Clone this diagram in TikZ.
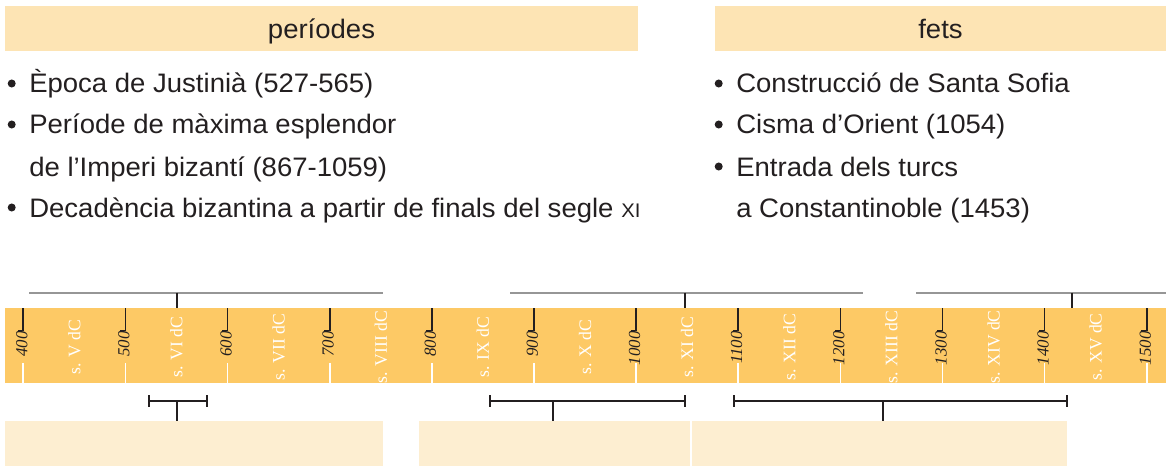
\documentclass[tikz,border=0pt]{standalone}
\usepackage{fontspec}
\setmainfont{Liberation Sans}[FakeStretch=1.03]
\newfontfamily\serifface{Liberation Serif}
\usetikzlibrary{positioning}

\definecolor{headfill}{RGB}{253,228,180}
\definecolor{bandfill}{RGB}{253,201,101}
\definecolor{boxfill}{RGB}{253,238,209}
\definecolor{inkgray}{RGB}{35,31,32}
\definecolor{brgray}{RGB}{150,150,150}

\begin{document}
\begin{tikzpicture}[x=0.025cm, y=-0.025cm,
  %% Header strips and list text
  head/.style ={fill=headfill, inner sep=0pt, text depth=0pt, text=inkgray,
                font=\fontsize{19}{23}\selectfont},
  item/.style ={anchor=base west, inner sep=0pt, text=inkgray,
                font=\fontsize{19}{23}\selectfont},
  bul/.style  ={circle, fill=inkgray, inner sep=0pt, minimum size=0.2cm},
  %% Timeline band
  band/.style ={fill=bandfill, inner sep=0pt, minimum width=29.025cm, minimum height=1.875cm},
  yearlbl/.style ={rotate=90, anchor=east, inner sep=0pt, text=inkgray,
                font=\serifface\itshape\fontsize{12}{13}\selectfont},
  centlbl/.style ={rotate=90, inner sep=0pt, text=white,
                font=\serifface\fontsize{12.5}{13}\selectfont},
  tick/.style ={line width=1.2pt, inkgray},
  wtick/.style={line width=1.2pt, white},
  %% Brackets and empty boxes
  upbr/.style ={line width=1.4pt, brgray},
  lobr/.style ={line width=1.2pt, inkgray},
  lobox/.style={fill=boxfill, inner sep=0pt, minimum height=1.125cm}
]
\useasboundingbox (0,0) rectangle (1166,466);

%% ── HEADERS ─────────────────────────────────────────────────
\node[head, minimum width=15.825cm, minimum height=1.125cm] (hper) at (321.5,28.5) {períodes};
\node[head, minimum width=11.275cm, minimum height=1.125cm] (hfet) at (940.5,28.5) {fets};

%% ── LEFT LIST ───────────────────────────────────────────────
\node[bul]  (b1) at (11.7,83.5) {};
\node[item] (p1) at (29,93)  {Època de Justinià (527-565)};
\node[bul]  (b2) at (11.7,124.5) {};
\node[item] (p2) at (29,134) {Període de màxima esplendor};
\node[item] (p3) at (29,176) {de l’Imperi bizantí (867-1059)};
\node[bul]  (b3) at (11.7,207.5) {};
\node[item] (p4) at (29,217) {Decadència bizantina a partir de finals del segle {\fontsize{14}{16}\selectfont XI}};

%% ── RIGHT LIST ──────────────────────────────────────────────
\node[bul]  (b4) at (718.7,83.5) {};
\node[item] (f1) at (736,93)  {Construcció de Santa Sofia};
\node[bul]  (b5) at (718.7,124.5) {};
\node[item] (f2) at (736,134) {Cisma d’Orient (1054)};
\node[bul]  (b6) at (718.7,166.5) {};
\node[item] (f3) at (736,176) {Entrada dels turcs};
\node[item] (f4) at (736,217) {a Constantinoble (1453)};

%% ── TIMELINE BAND ───────────────────────────────────────────
\node[band] (band) at (585.5,345.5) {};

\foreach \i in {0,...,11} {
  \pgfmathsetmacro\tx{23.3+102.13*\i}
  \pgfmathtruncatemacro\yr{400+100*\i}
  \node[yearlbl] (y\i) at (\tx-1.5,331) {\yr};
  \draw[tick]  (\tx,308) -- (\tx,330.5) -- ++(-5.5,0);
  \draw[wtick] (\tx,363) -- (band.south -| \tx,0);
}
\foreach \c [count=\i from 0] in {V,VI,VII,VIII,IX,X,XI,XII,XIII,XIV,XV}
  \node[centlbl] (c\i) at ({74.4+102.13*\i},347) {s. \c\ dC};

%% ── FACT BRACKETS (above) ───────────────────────────────────
\coordinate (fa) at (176.7,292.7);
\coordinate (fb) at (685,292.7);
\coordinate (fc) at (1071.7,292.7);
\draw[upbr] (29,292.7) -- (383,292.7);
\draw[upbr] (510,292.7) -- (863,292.7);
\draw[upbr] (916,292.7) -- (1166,292.7);
\draw[lobr] (fa) -- (fa |- band.north);
\draw[lobr] (fb) -- (fb |- band.north);
\draw[lobr] (fc) -- (fc |- band.north);

%% ── EMPTY BOXES (below) ─────────────────────────────────────
\node[lobox, minimum width=9.45cm]   (x1) at (194,443.5) {};
\node[lobox, minimum width=6.775cm]  (x2) at (554.5,444) {};
\node[lobox, minimum width=9.375cm]  (x3) at (879.5,444) {};

%% ── PERIOD BRACKETS (below) ─────────────────────────────────
\draw[lobr] (149,395) -- (149,407) (149,401) -- (207,401) (207,395) -- (207,407);
\draw[lobr] (490,395) -- (490,407) (490,401) -- (685,401) (685,395) -- (685,407);
\draw[lobr] (734,395) -- (734,407) (734,401) -- (1067,401) (1067,395) -- (1067,407);
\coordinate (pa) at (177,401);
\coordinate (pb) at (552.7,401);
\coordinate (pc) at (882.7,401);
\draw[lobr] (pa) -- (pa |- x1.north);
\draw[lobr] (pb) -- (pb |- x2.north);
\draw[lobr] (pc) -- (pc |- x3.north);

\end{tikzpicture}
\end{document}
